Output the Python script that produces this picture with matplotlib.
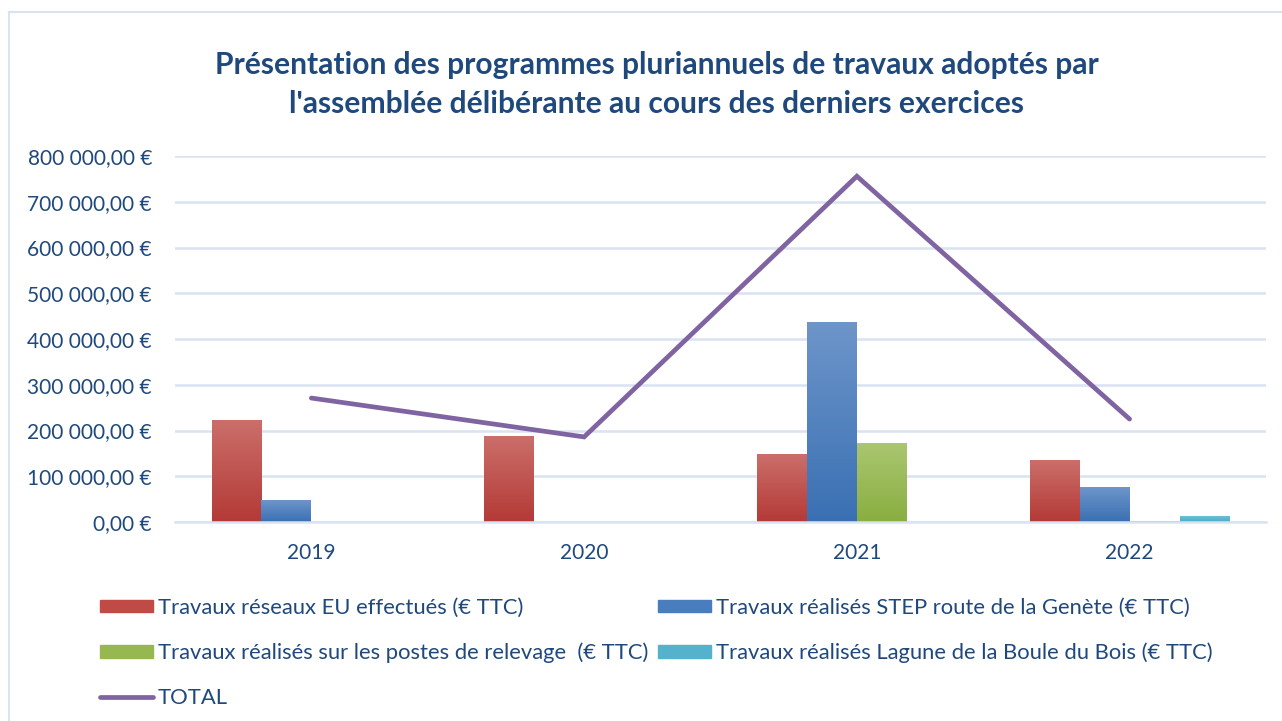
import numpy as np
import matplotlib
matplotlib.use("Agg")
import matplotlib.pyplot as plt
import matplotlib.ticker as ticker
from matplotlib.lines import Line2D
from matplotlib.patches import Patch
from matplotlib.colors import LinearSegmentedColormap

years = ['2019', '2020', '2021', '2022']
reseaux_eu = [223000, 186000, 146500, 133500]
step_genete = [48000, 0, 437000, 76500]
postes_relevage = [0, 0, 172500, 1500]
lagune_boule = [0, 0, 0, 13000]
total = [271000, 186000, 756000, 225000]

labels = ['Travaux réseaux EU effectués (€ TTC)',
          'Travaux réalisés STEP route de la Genète (€ TTC)',
          'Travaux réalisés sur les postes de relevage  (€ TTC)',
          'Travaux réalisés Lagune de la Boule du Bois (€ TTC)',
          'TOTAL']

# (top colour, bottom colour) for the Excel-like gradients
colors = [('#CB6E6A', '#B43A36'),
          ('#6D95CA', '#3A70B3'),
          ('#AAC670', '#8AAE40'),
          ('#6BC1D6', '#4AABC5')]
legend_colors = ['#C04A46', '#4A7DBE', '#97B850', '#55B2CC']
line_color = '#8064A2'
text_color = '#1F497D'
grid_color = '#D9E3F1'

plt.rcParams['font.family'] = ['Lato', 'DejaVu Sans']

fig = plt.figure(figsize=(12.82, 7.21), dpi=100)
ax = fig.add_axes([0.1365, 0.276, 0.851, 0.5075])

x = np.arange(len(years))
width = 0.183
series = [reseaux_eu, step_genete, postes_relevage, lagune_boule]
for i, vals in enumerate(series):
    offset = (i - 1.5) * width
    bars = ax.bar(x + offset, vals, width, color=colors[i][1], zorder=2)
    cmap = LinearSegmentedColormap.from_list('g%d' % i, [colors[i][1], colors[i][0]])
    for rect in bars:
        h = rect.get_height()
        if h <= 0:
            continue
        grad = np.linspace(1, 0, 64).reshape(-1, 1)
        ax.imshow(grad, cmap=cmap, aspect='auto', zorder=2.5,
                  extent=[rect.get_x(), rect.get_x() + rect.get_width(), 0, h])

ax.plot(x, total, color=line_color, linewidth=3.4, solid_capstyle='round',
        solid_joinstyle='miter', zorder=3)

ax.set_xlim(-0.5, 3.5)
ax.set_ylim(0, 800000)
ax.yaxis.set_major_locator(ticker.MultipleLocator(100000))
ax.yaxis.set_major_formatter(ticker.FuncFormatter(
    lambda v, pos: '{:,.2f} €'.format(v).replace(',', ' ').replace('.', ',')))
ax.set_xticks(x)
ax.set_xticklabels(years)
ax.grid(axis='y', color=grid_color, linewidth=1.8, zorder=0)
ax.set_axisbelow(True)
for s in ['top', 'right', 'left']:
    ax.spines[s].set_visible(False)
ax.spines['bottom'].set_color(grid_color)
ax.spines['bottom'].set_linewidth(1.8)
ax.tick_params(axis='both', length=0, colors=text_color, labelsize=15)
ax.tick_params(axis='y', pad=16.5)
ax.tick_params(axis='x', pad=15)

fig.text(0.512, 0.883, "Présentation des programmes pluriannuels de travaux adoptés par\n"
         "l'assemblée délibérante au cours des derniers exercices",
         ha='center', va='center', fontsize=21.6, fontweight='bold',
         color=text_color, linespacing=1.49)

# chart frame (cut by the image edges)
fig.add_artist(Line2D([9 / 1282, 9 / 1282], [0, 1 - 12 / 721], color=grid_color, linewidth=1.5))
fig.add_artist(Line2D([9 / 1282, 1], [1 - 12 / 721, 1 - 12 / 721], color=grid_color, linewidth=1.5))

handles = [Patch(color=legend_colors[0]), Patch(color=legend_colors[2]),
           Line2D([], [], color=line_color, linewidth=3.4, solid_capstyle='round'),
           Patch(color=legend_colors[1]), Patch(color=legend_colors[3])]
leg_labels = [labels[0], labels[2], labels[4], labels[1], labels[3]]
fig.legend(handles, leg_labels, ncol=2, loc='upper left',
           bbox_to_anchor=(100 / 1282, 1 - 598 / 721), frameon=False,
           fontsize=15.8, handlelength=2.4, handleheight=0.5, handletextpad=0.23,
           columnspacing=0.45, labelspacing=1.12, labelcolor=text_color,
           borderpad=0, borderaxespad=0)

fig.savefig('out.png', dpi=100)
